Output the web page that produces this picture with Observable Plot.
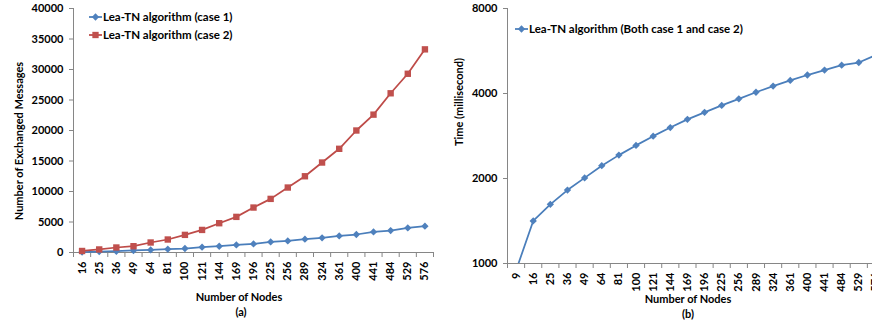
<!DOCTYPE html>
<html><head><meta charset="utf-8">
<script src="https://cdn.jsdelivr.net/npm/d3@7"></script>
<script src="https://cdn.jsdelivr.net/npm/@observablehq/plot@0.6"></script>
<style>
body{margin:0;background:#fff;}
#wrap{position:relative;width:872px;height:324px;overflow:hidden;font-family:Lato,sans-serif;font-weight:bold;color:#000;}
#wrap > svg{position:absolute;top:0;}
.t{position:absolute;white-space:nowrap;font-size:11px;font-weight:bold;font-family:Lato,sans-serif;line-height:1;}
.c{transform:translate(-50%,-50%);}
.r{transform:translate(-50%,-50%) rotate(-90deg);}
</style></head><body><div id="wrap"></div>
<script>
// ---------- data ----------
const nodesA = ["16","25","36","49","64","81","100","121","144","169","196","225","256","289","324","361","400","441","484","529","576"];
const case1  = [80,150,210,330,430,540,650,870,1030,1250,1410,1740,1900,2180,2400,2720,2950,3380,3600,4030,4310];
const case2  = [250,500,820,1030,1640,2130,2890,3700,4800,5840,7370,8790,10650,12500,14750,17000,20000,22600,26100,29300,33300];
const yTicksA = [0,5000,10000,15000,20000,25000,30000,35000,40000];

const nodesB = ["9","16","25","36","49","64","81","100","121","144","169","196","225","256","289","324","361","400","441","484","529","576"];
const timeB  = [945,1415,1620,1820,2010,2220,2420,2620,2825,3030,3240,3430,3630,3830,4040,4250,4450,4650,4840,5040,5150,5470];
const yTicksB = [1000,2000,4000,8000];

const BLUE = "#4A7EBB", BLUE_M = "#4F81BD", RED = "#BE4B48", RED_M = "#C0504D", AX = "#868686";
const font = {fontFamily:"Lato, sans-serif", fontWeight:"bold", fontSize:"11px", color:"#000", background:"transparent", overflow:"visible"};

const wrap = document.getElementById("wrap");

// ---------- panel (a) ----------
const dataA = nodesA.map((n,i)=>({i, n, c1:case1[i], c2:case2[i]}));
const idxA = d3.range(nodesA.length);
const boundsA = d3.range(nodesA.length+1).map(i=>i-0.5);
const plotA = Plot.plot({
  width:440, height:324, marginLeft:73, marginRight:7, marginTop:8, marginBottom:72,
  style:font,
  x:{type:"linear", domain:[-0.5, nodesA.length-0.5]},
  y:{type:"linear", domain:[0,40000]},
  marks:[
    Plot.axisY({ticks:yTicksA, tickSize:4, tickPadding:6, stroke:AX, fill:"#000", tickFormat:d=>String(d), label:null}),
    Plot.axisX({ticks:boundsA, tickSize:5, stroke:AX, tickFormat:()=>"", label:null}),
    Plot.axisX({ticks:idxA, tickSize:0, tickPadding:9, tickRotate:-90, fill:"#000", tickFormat:i=>nodesA[i], label:null}),
    Plot.ruleX([-0.5], {stroke:AX}),
    Plot.ruleY([0], {stroke:AX}),
    Plot.line(dataA, {x:"i", y:"c1", stroke:BLUE, strokeWidth:1.75}),
    Plot.line(dataA, {x:"i", y:"c2", stroke:RED, strokeWidth:1.75}),
    Plot.dot(dataA, {x:"i", y:"c1", symbol:"diamond2", r:3.3, fill:BLUE_M}),
    Plot.dot(dataA, {x:"i", y:"c2", symbol:"square", r:3.6, fill:RED_M})
  ]
});
plotA.style.left = "0px";
wrap.appendChild(plotA);

// ---------- panel (b) ----------
const dataB = nodesB.map((n,i)=>({i, n, t:timeB[i]}));
const idxB = d3.range(nodesB.length);
const boundsB = d3.range(nodesB.length+1).map(i=>i-0.5);
const plotB = Plot.plot({
  width:450, height:324, marginLeft:67, marginRight:6, marginTop:8, marginBottom:61,
  style:font,
  x:{type:"linear", domain:[-0.5, nodesB.length-0.5]},
  y:{type:"log", domain:[1000,8000]},
  marks:[
    Plot.axisY({ticks:yTicksB, tickSize:4, tickPadding:6, stroke:AX, fill:"#000", tickFormat:d=>String(d), label:null}),
    Plot.axisX({ticks:boundsB, tickSize:5, stroke:AX, tickFormat:()=>"", label:null}),
    Plot.axisX({ticks:idxB, tickSize:0, tickPadding:9, tickRotate:-90, fill:"#000", tickFormat:i=>nodesB[i], label:null}),
    Plot.ruleX([-0.5], {stroke:AX}),
    Plot.ruleY([1000], {stroke:AX}),
    Plot.line(dataB, {x:"i", y:"t", stroke:BLUE, strokeWidth:1.75, clip:true}),
    Plot.dot(dataB, {x:"i", y:"t", symbol:"diamond2", r:3.3, fill:BLUE_M, clip:true})
  ]
});
plotB.style.left = "440px";
wrap.appendChild(plotB);

// ---------- titles & legends ----------
function txt(s, x, y, cls){ const d=document.createElement("div"); d.className="t "+cls; d.textContent=s; d.style.left=x+"px"; d.style.top=y+"px"; wrap.appendChild(d); }
txt("Number of Exchanged Messages", 18, 141, "r");
txt("Number of Nodes", 239, 296, "c");
txt("(a)", 241, 311, "c");
txt("Time (millisecond)", 458, 102, "r");
txt("Number of Nodes", 688, 298, "c");
txt("(b)", 688, 313, "c");

const ns = "http://www.w3.org/2000/svg";
const lg = document.createElementNS(ns, "svg");
lg.setAttribute("width", 872); lg.setAttribute("height", 324);
lg.style.position = "absolute"; lg.style.left = "0px"; lg.style.top = "0px"; lg.style.pointerEvents = "none";
wrap.appendChild(lg);
const legends = [
  {x:89, y:17, color:BLUE, mcolor:BLUE_M, sym:d3.symbolDiamond2, size:34, label:"Lea-TN algorithm (case 1)"},
  {x:89, y:35, color:RED, mcolor:RED_M, sym:d3.symbolSquare, size:40, label:"Lea-TN algorithm (case 2)"},
  {x:515, y:29, color:BLUE, mcolor:BLUE_M, sym:d3.symbolDiamond2, size:34, label:"Lea-TN algorithm (Both case 1 and case 2)"}
];
for (const l of legends) {
  const ln = document.createElementNS(ns, "line");
  ln.setAttribute("x1", l.x); ln.setAttribute("x2", l.x+13); ln.setAttribute("y1", l.y); ln.setAttribute("y2", l.y);
  ln.setAttribute("stroke", l.color); ln.setAttribute("stroke-width", 1.75); lg.appendChild(ln);
  const p = document.createElementNS(ns, "path");
  p.setAttribute("d", d3.symbol(l.sym, l.size)()); p.setAttribute("transform", `translate(${l.x+6.5},${l.y})`);
  p.setAttribute("fill", l.mcolor); lg.appendChild(p);
  const t = document.createElementNS(ns, "text");
  t.setAttribute("x", l.x+14); t.setAttribute("y", l.y); t.setAttribute("dy", "0.35em");
  t.setAttribute("font-family", "Lato, sans-serif"); t.setAttribute("font-weight", "bold"); t.setAttribute("font-size", 11.5);
  t.textContent = l.label; lg.appendChild(t);
}
</script></body></html>
